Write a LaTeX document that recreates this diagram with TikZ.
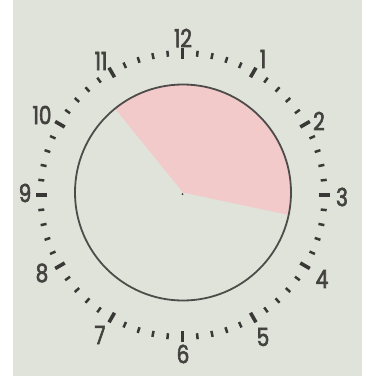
\documentclass[tikz,border=0pt]{standalone}
\usepackage{fontspec}
\usetikzlibrary{calc}
\setmainfont{Poppins}[FakeStretch=0.8]
\definecolor{bg}{HTML}{DFE3DA}
\definecolor{pinkfill}{HTML}{F2CACA}
\definecolor{ink}{HTML}{3A3836}
\definecolor{digit}{HTML}{44423F}
\newcommand{\heavytxt}[1]{\special{pdf:literal direct 2 Tr 0.6 w}#1\special{pdf:literal direct 0 Tr}}
\tikzset{
  majortick/.style={draw=ink, line width=3.6pt},
  minortick/.style={draw=ink, line width=2.5pt},
  ring/.style={draw=ink!90, line width=1.8pt},
  numlabel/.style={font=\fontsize{25}{25}\selectfont, text=digit, inner sep=0pt}
}
\begin{document}
\begin{tikzpicture}[x=1pt,y=-1pt]
\useasboundingbox (0,0) rectangle (365,378);
\fill[white] (0,0) rectangle (365,378);
\fill[bg] (13,0) rectangle (362,376);
\coordinate (c) at (183,192.5);
\coordinate (t) at (182.5,195);
% pink sector
\fill[pinkfill] (c) -- ($(c)+(-129:108)$) arc[start angle=-129, end angle=12, radius=108] -- cycle;
% dial circle
\draw[ring] (c) circle[radius=108];
\fill[ink] (182.5,194) circle[radius=1];
% ticks
\foreach \i in {0,...,59}{
  \pgfmathtruncatemacro\m{mod(\i,5)}
  \pgfmathsetmacro\a{-90+6*\i}
  \ifnum\m=0
    \draw[majortick] ($(t)+(\a:136)$) -- ($(t)+(\a:147)$);
  \else
    \draw[minortick] ($(t)+(\a:139)$) -- ($(t)+(\a:145)$);
  \fi
}
% numbers
\node[numlabel] (n12) at (183,38) {\heavytxt{12}};
\node[numlabel] (n1) at (263,59) {\heavytxt{1}};
\node[numlabel] (n2) at (319,121) {\heavytxt{2}};
\node[numlabel] (n3) at (342,197) {\heavytxt{3}};
\node[numlabel] (n4) at (322,279) {\heavytxt{4}};
\node[numlabel] (n5) at (263,337) {\heavytxt{5}};
\node[numlabel] (n6) at (183,354) {\heavytxt{6}};
\node[numlabel] (n7) at (100,335) {\heavytxt{7}};
\node[numlabel] (n8) at (42,273) {\heavytxt{8}};
\node[numlabel] (n9) at (25,193) {\heavytxt{9}};
\node[numlabel] (n10) at (42,115) {\heavytxt{10}};
\node[numlabel] (n11) at (101,61) {\heavytxt{11}};
\end{tikzpicture}
\end{document}
